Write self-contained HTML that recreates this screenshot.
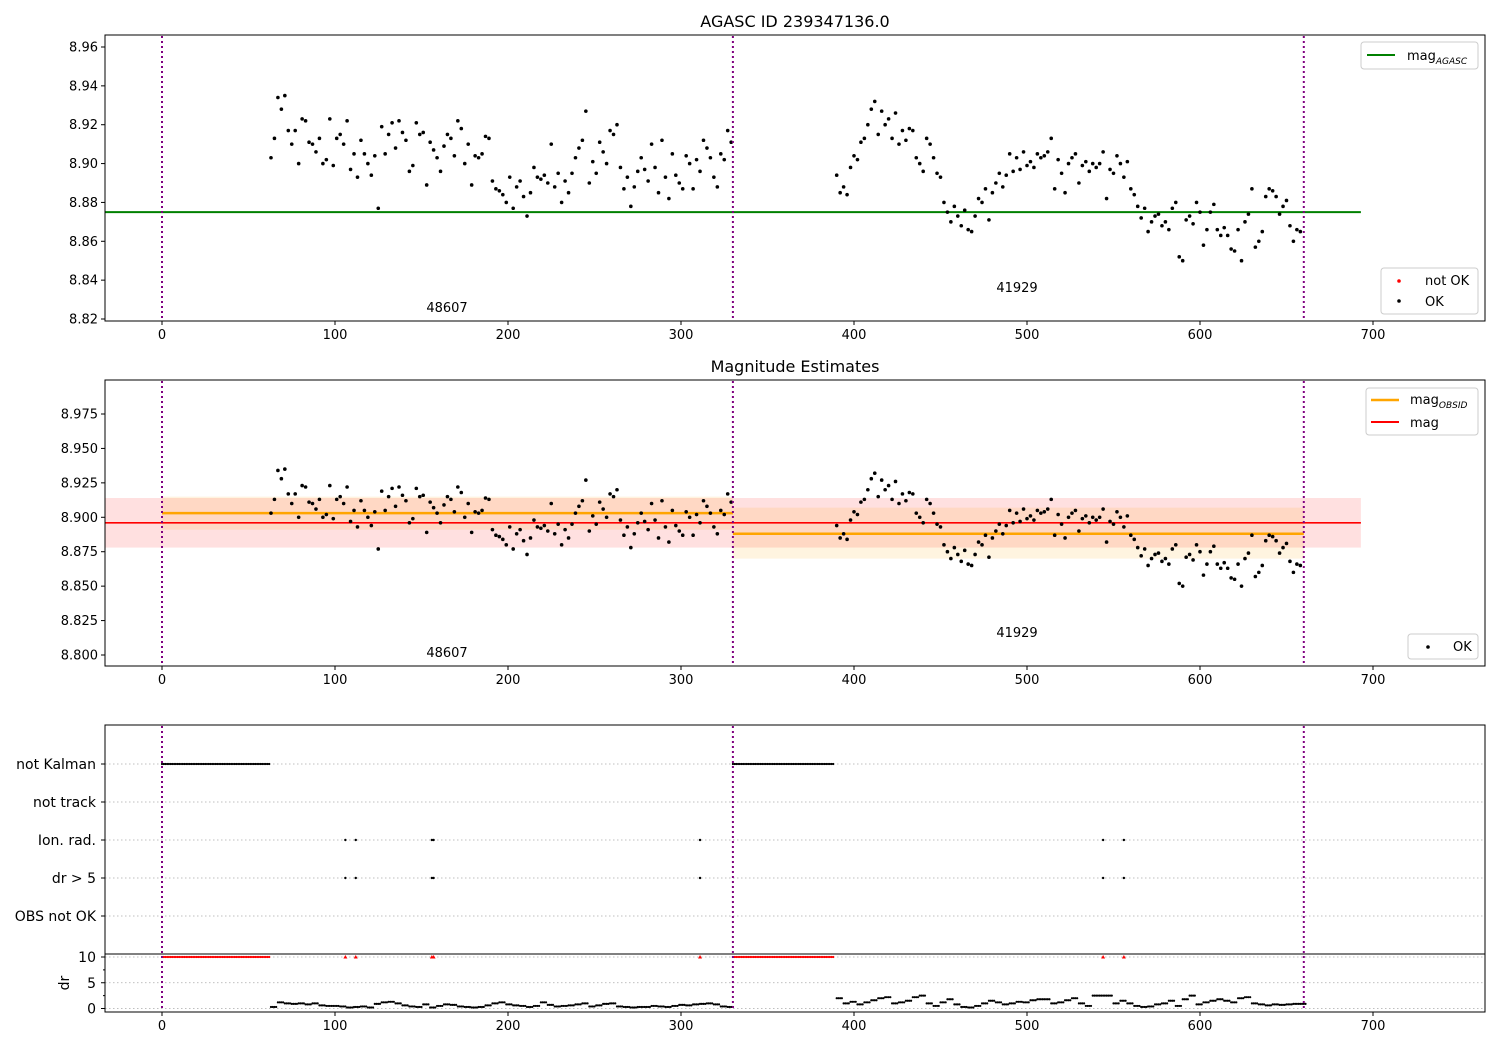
<!DOCTYPE html>
<html><head><meta charset="utf-8"><style>
body{margin:0;background:#fff}
svg{display:block;font-family:"DejaVu Sans","Liberation Sans",sans-serif}
</style></head><body>
<svg id="fig" width="1500" height="1050" viewBox="0 0 1500 1050" xmlns="http://www.w3.org/2000/svg">
<rect width="1500" height="1050" fill="#fff"/>
<g id="layer"></g>
</svg>
<script>
// ---- data ----
const seg1Start = 63;
const seg1Mag = [8.903,8.913,8.934,8.928,8.935,8.917,8.910,
8.917,8.900,8.923,8.922,8.911,8.910,8.906,8.913,8.900,8.902,8.923,8.899,
8.913,8.915,8.910,8.922,8.897,8.905,8.893,8.912,8.905,8.900,8.894,8.904,8.877,
8.919,8.905,8.915,8.921,8.908,8.922,8.916,8.912,8.896,8.899,8.921,8.915,8.916,
8.889,8.911,8.907,8.903,8.896,8.909,8.915,8.913,8.904,8.922,8.918,8.900,8.910,8.889,
8.904,8.903,8.905,8.914,8.913,8.891,8.887,8.886,8.884,8.880,8.893,8.877,8.888,
8.891,8.883,8.873,8.885,8.898,8.893,8.892,8.894,8.890,8.910,8.888,8.895,8.880,8.891,
8.885,8.895,8.903,8.908,8.912,8.927,8.890,8.901,8.895,8.911,8.906,8.900,8.917,8.915,
8.920,8.898,8.887,8.893,8.878,8.888,8.896,8.903,8.897,8.891,8.910,8.898,8.885,8.912,
8.893,8.882,8.905,8.894,8.890,8.887,8.904,8.900,8.887,8.902,8.896,8.912,8.908,8.903,8.893,8.888,8.905,8.902,8.917,8.911];
const seg2Start = 390;
const seg2Mag = [8.894,8.885,8.888,8.884,8.898,8.904,8.902,8.911,8.913,8.920,8.928,
8.932,8.915,8.927,8.920,8.923,8.913,8.926,8.910,8.917,8.912,8.918,
8.917,8.903,8.900,8.896,8.913,8.910,8.903,8.895,8.893,8.880,8.875,
8.870,8.878,8.873,8.868,8.876,8.866,8.865,8.873,8.882,8.880,8.887,
8.871,8.885,8.890,8.895,8.888,8.894,8.905,8.896,8.903,8.897,8.906,
8.899,8.901,8.898,8.905,8.903,8.904,8.906,8.913,8.887,8.902,8.895,
8.885,8.900,8.903,8.905,8.890,8.899,8.901,8.896,8.900,8.898,8.900,
8.906,8.882,8.897,8.895,8.904,8.900,8.893,8.901,8.887,8.884,8.878,
8.872,8.877,8.865,8.870,8.873,8.874,8.868,8.870,8.866,8.877,8.880,
8.852,8.850,8.871,8.873,8.869,8.880,8.875,8.858,8.866,8.875,8.879,
8.866,8.863,8.867,8.863,8.856,8.855,8.866,8.850,8.870,8.874,8.887,
8.857,8.860,8.865,8.883,8.887,8.886,8.883,8.874,8.878,8.881,8.868,
8.860,8.866,8.865];
const dr1Start = 63;
const dr1 = [0.3,1.2,1.0,0.9,1.0,0.8,1.0,0.6,0.5,0.5,0.4,0.2,0.3,0.4,0.2,0.9,1.2,1.3,1.0,0.6,
0.4,0.3,0.8,0.2,0.5,0.8,0.7,0.4,0.3,0.2,0.3,0.6,1.0,1.2,0.8,0.6,0.5,0.3,0.5,1.2,
0.7,0.4,0.5,0.6,0.8,1.0,0.4,0.6,0.9,1.0,0.4,0.3,0.2,0.3,0.3,0.5,0.4,0.3,0.5,0.7,0.6,0.8,0.9,1.0,0.8,0.4,0.3];
const dr2Start = 390;
const dr2 = [2.0,1.0,1.3,0.8,1.2,1.6,2.0,2.2,1.0,1.2,1.5,2.2,2.5,1.0,0.5,1.2,1.8,0.8,0.3,0.2,
0.5,1.0,1.5,1.2,0.8,1.0,1.3,1.2,1.6,1.8,1.8,1.0,1.2,1.6,2.0,1.0,0.5,2.5,2.5,2.5,
1.0,1.5,1.0,0.5,0.3,0.4,0.8,1.0,1.5,0.5,1.8,2.5,0.8,1.2,1.5,1.8,1.5,1.2,2.0,2.2,1.0,0.8,0.6,0.8,0.7,0.8,0.9,0.9];
const notKalmanRanges = [[0,62],[330,388]];
const flaggedTimes = [106,112,156,157,311,544,556];
const obsBounds = [0,330,660];
const obsIds = ["48607","41929"];
const obsMag = [8.903,8.888];
const obsBandLo = [8.891,8.870];
const obsBandHi = [8.915,8.907];
const magAgasc = 8.875;
const magMean = 8.896, magLo = 8.878, magHi = 8.914;
const xTicks = [0,100,200,300,400,500,600,700];
const y1Ticks = [8.82,8.84,8.86,8.88,8.90,8.92,8.94,8.96];
const y2Ticks = [8.800,8.825,8.850,8.875,8.900,8.925,8.950,8.975];
const flagCats = ["not Kalman","not track","Ion. rad.","dr > 5","OBS not OK"];
const drTicks = [0,5,10];

// ---- helpers ----
const NS="http://www.w3.org/2000/svg";
const L=document.getElementById('layer');
function mk(tag,attrs,parent){const e=document.createElementNS(NS,tag);for(const k in attrs)e.setAttribute(k,attrs[k]);(parent||L).appendChild(e);return e;}
const X0=105,X1=1485;
const xs=v=>162+(v)*(1373-162)/700;
const y1=v=>319-(v-8.82)*(319-47)/0.14;
const y2=v=>655-(v-8.8)*(655-414)/0.175;
const ycat=i=>764+i*38;
const ydr=v=>1008.5-v*(1008.5-957)/10;

function frame(top,bot,name){
  const r=mk('rect',{x:X0,y:top,width:X1-X0,height:bot-top,fill:'none',stroke:'#000','stroke-width':1});
  
  
}
function xaxis(bot,name){
  const g=mk('g',{});
  
  
  xTicks.forEach(t=>{const x=xs(t);mk('line',{x1:x,x2:x,y1:bot,y2:bot+4,stroke:'#000'},g);
    const tx=mk('text',{x:x,y:bot+18,'font-size':13,'text-anchor':'middle'},g);tx.textContent=t;});
}
function yaxis(ticks,f,fmt,name){
  const g=mk('g',{});
  
  
  ticks.forEach(t=>{const y=f(t);mk('line',{x1:X0-4,x2:X0,y1:y,y2:y,stroke:'#000'},g);
    const tx=mk('text',{x:X0-7,y:y+4.5,'font-size':13,'text-anchor':'end'},g);tx.textContent=fmt(t);});
}
function vlines(top,bot){
  obsBounds.forEach(b=>{const l=mk('line',{x1:xs(b),x2:xs(b),y1:top,y2:bot,stroke:'purple','stroke-width':2,'stroke-dasharray':'2,3'});
    
    });
}
function points(f,name){
  const g=mk('g',{fill:'#000'});
  
  
  seg1Mag.forEach((m,i)=>mk('circle',{cx:xs(seg1Start+2*i),cy:f(m),r:1.8},g));
  seg2Mag.forEach((m,i)=>mk('circle',{cx:xs(seg2Start+2*i),cy:f(m),r:1.8},g));
}
function text(x,y,s,size,anchor,name){const t=mk('text',{x:x,y:y,'font-size':size,'text-anchor':anchor||'middle'});t.textContent=s;
  
  return t;}

// ---- panel 1 ----
{
const l=mk('line',{x1:xs(-33),x2:xs(693),y1:y1(magAgasc),y2:y1(magAgasc),stroke:'green','stroke-width':2});


points(y1,'ok-points-top');
vlines(36,320);
frame(35,321,'top-axes');
xaxis(321,'top-x-axis');
yaxis(y1Ticks,y1,v=>v.toFixed(2),'top-y-axis');
text(795,27,'AGASC ID 239347136.0',16,'middle','top-title');
text(447,312,obsIds[0],13,'middle','obsid-label');
text(1017,292,obsIds[1],13,'middle','obsid-label');
const lg=mk('g',{});
mk('rect',{x:1361,y:42,width:117,height:27,rx:3,fill:'#fff',stroke:'#ccc'},lg);
mk('line',{x1:1367,x2:1395,y1:55,y2:55,stroke:'green','stroke-width':2},lg);
const t=mk('text',{x:1407,y:60,'font-size':13},lg);t.innerHTML='mag<tspan font-size="9" dy="4" font-style="italic">AGASC</tspan>';
const lg2=mk('g',{});
mk('rect',{x:1381,y:268,width:97,height:46,rx:3,fill:'#fff',stroke:'#ccc'},lg2);
mk('circle',{cx:1399,cy:281,r:1.8,fill:'red'},lg2);
mk('circle',{cx:1399,cy:301,r:1.8,fill:'#000'},lg2);
mk('text',{x:1425,y:285,'font-size':13},lg2).textContent='not OK';
mk('text',{x:1425,y:306,'font-size':13},lg2).textContent='OK';
}
// ---- panel 2 ----
{
const b=mk('rect',{x:X0,y:y2(magHi),width:xs(693)-X0,height:y2(magLo)-y2(magHi),fill:'red','fill-opacity':0.12});


obsMag.forEach((m,i)=>{
  const x0=xs(obsBounds[i]),x1=xs(obsBounds[i+1]);
  const r=mk('rect',{x:x0,y:y2(obsBandHi[i]),width:x1-x0,height:y2(obsBandLo[i])-y2(obsBandHi[i]),fill:'orange','fill-opacity':0.12});
  
  
});
const ml=mk('line',{x1:X0,x2:xs(693),y1:y2(magMean),y2:y2(magMean),stroke:'red','stroke-width':1.6});


obsMag.forEach((m,i)=>{
  const l=mk('line',{x1:xs(obsBounds[i]),x2:xs(obsBounds[i+1]),y1:y2(m),y2:y2(m),stroke:'orange','stroke-width':2.5});
  
  
});
points(y2,'ok-points-mid');
vlines(381,665);
frame(380,666,'mid-axes');
xaxis(666,'mid-x-axis');
yaxis(y2Ticks,y2,v=>v.toFixed(3),'mid-y-axis');
text(795,372,'Magnitude Estimates',16,'middle','mid-title');
text(447,657,obsIds[0],13,'middle','obsid-label');
text(1017,637,obsIds[1],13,'middle','obsid-label');
const lg=mk('g',{});
mk('rect',{x:1366,y:388,width:112,height:47,rx:3,fill:'#fff',stroke:'#ccc'},lg);
mk('line',{x1:1371,x2:1399,y1:400,y2:400,stroke:'orange','stroke-width':2.5},lg);
mk('line',{x1:1371,x2:1399,y1:422,y2:422,stroke:'red','stroke-width':2},lg);
const t=mk('text',{x:1410,y:404,'font-size':13},lg);t.innerHTML='mag<tspan font-size="9" dy="4" font-style="italic">OBSID</tspan>';
mk('text',{x:1410,y:427,'font-size':13},lg).textContent='mag';
const lg2=mk('g',{});
mk('rect',{x:1408,y:634,width:70,height:25,rx:3,fill:'#fff',stroke:'#ccc'},lg2);
mk('circle',{cx:1428,cy:647,r:1.8,fill:'#000'},lg2);
mk('text',{x:1453,y:651,'font-size':13},lg2).textContent='OK';
}
// ---- panel 3 ----
{
flagCats.forEach((c,i)=>{
  const y=ycat(i);
  mk('line',{x1:X0,x2:X1,y1:y,y2:y,stroke:'#aaa','stroke-dasharray':'1.5,2.5','stroke-width':0.8});
  mk('line',{x1:X0-4,x2:X0,y1:y,y2:y,stroke:'#000'});
  text(X0-9,y+5,c,14,'end','flag-label');
});
drTicks.forEach(t=>{const y=ydr(t);
  mk('line',{x1:X0,x2:X1,y1:y,y2:y,stroke:'#aaa','stroke-dasharray':'1.5,2.5','stroke-width':0.8});
  mk('line',{x1:X0-4,x2:X0,y1:y,y2:y,stroke:'#000'});
  text(X0-9,y+5,String(t),14,'end','dr-tick');});
[2.5,7.5].forEach(t=>mk('line',{x1:X0-2,x2:X0,y1:ydr(t),y2:ydr(t),stroke:'#000'}));
const yl=mk('text',{x:0,y:0,'font-size':14,'text-anchor':'middle',transform:'translate(69,983) rotate(-90)'});yl.textContent='dr';


const gk=mk('g',{fill:'#000'});


const gr=mk('g',{fill:'red'});


notKalmanRanges.forEach(([a,b])=>{for(let t=a;t<=b;t++){
  mk('circle',{cx:xs(t),cy:ycat(0),r:1.1},gk);
  mk('circle',{cx:xs(t),cy:ydr(10),r:1.1},gr);}});
const gf=mk('g',{fill:'#000'});


flaggedTimes.forEach(t=>{
  mk('circle',{cx:xs(t),cy:ycat(2),r:1.2},gf);
  mk('circle',{cx:xs(t),cy:ycat(3),r:1.2},gf);
  const x=xs(t),y=ydr(10);
  mk('path',{d:`M${x-2},${y+1.5}L${x+2},${y+1.5}L${x},${y-2}Z`},gr);
});
const gd=mk('g',{fill:'#000'});


dr1.forEach((v,i)=>{for(let k=0;k<4;k++)mk('circle',{cx:xs(dr1Start+4*i+k),cy:ydr(v),r:1.1},gd);});
dr2.forEach((v,i)=>{for(let k=0;k<4;k++)mk('circle',{cx:xs(dr2Start+4*i+k),cy:ydr(v),r:1.1},gd);});
vlines(726,1011);
const dv=mk('line',{x1:X0,x2:X1,y1:954,y2:954,stroke:'#000'});


frame(725,1012,'bottom-axes');
xaxis(1012,'bottom-x-axis');
}
</script>
</body></html>
